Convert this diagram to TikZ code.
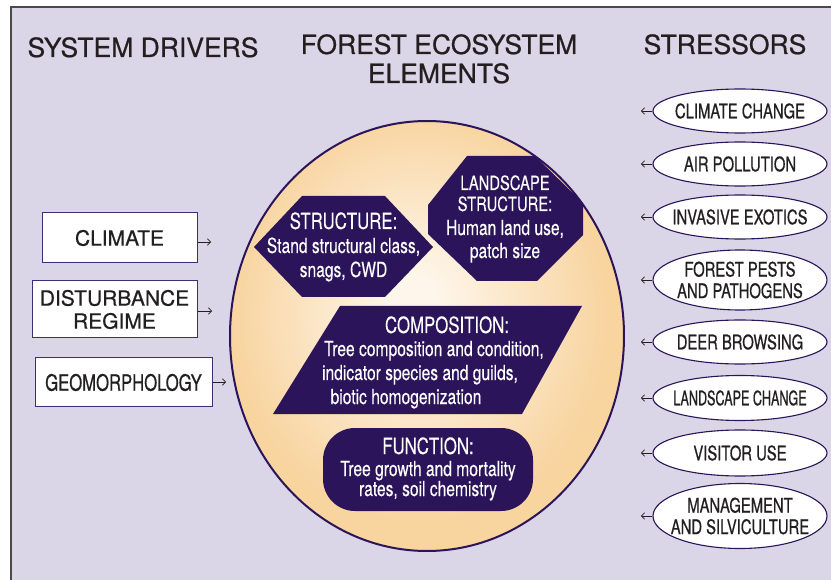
\documentclass[tikz,border=0pt]{standalone}
\usepackage{fontspec}
\setmainfont{TeX Gyre Heros}
\newfontfamily\hfont[FakeBold=0.6]{TeX Gyre Heros}
\newfontfamily\cond[FakeStretch=0.75,FakeBold=0.2]{TeX Gyre Heros}
\newfontfamily\condb[FakeStretch=0.74,FakeBold=0.6]{TeX Gyre Heros}
\newfontfamily\xcondb[FakeStretch=0.63,FakeBold=0.6]{TeX Gyre Heros}
\usetikzlibrary{shapes.geometric,arrows.meta}
\definecolor{bg}{HTML}{DAD6E8}
\definecolor{dp}{HTML}{2B1459}
\definecolor{boxc}{HTML}{3D2E75}
\definecolor{ink}{HTML}{231F20}
\definecolor{peach}{HTML}{F8D49F}
\definecolor{cream}{HTML}{FEF6EA}
\definecolor{framec}{HTML}{4A4A4A}
\pgfdeclareradialshading{eggshade}{\pgfpoint{-1.8bp}{4.2bp}}{color(0bp)=(cream); color(3bp)=(cream); color(24bp)=(peach); color(50bp)=(peach)}
\tikzset{
  hdr/.style={font=\hfont\fontsize{26.5}{29}\selectfont, text=ink, anchor=base, inner sep=0},
  drvbox/.style={draw=boxc, line width=1pt, fill=white, inner sep=0, align=center, text=ink, font=\hfont\fontsize{21}{23}\selectfont},
  stressell/.style={ellipse, draw=dp, line width=1.1pt, fill=white, minimum width=174, inner sep=0},
  sttxt/.style={font=\condb\fontsize{20}{21.5}\selectfont, text=ink, align=center, inner sep=0},
  wtitle/.style={font=\cond\fontsize{22.4}{24}\selectfont, text=white, anchor=base, inner sep=0},
  wtitles/.style={font=\cond\fontsize{19.7}{21}\selectfont, text=white, anchor=base, inner sep=0},
  wbody/.style={font=\cond\fontsize{20.8}{22}\selectfont, text=white, anchor=base, inner sep=0},
  arr/.style={draw=ink, line width=0.75pt, -{Straight Barb[length=3pt,width=6.5pt]}},
}
\begin{document}
\begin{tikzpicture}[x=1pt,y=-1pt]
\useasboundingbox (0,0) rectangle (831,580);
% frame
\fill[bg] (11,7) rectangle (850,600);
\draw[framec, line width=1.3pt] (850,7) -- (11,7) -- (11,600);
% headers
\node[hdr] (h1) at (143,57) {SYSTEM DRIVERS};
\node[hdr] (h2) at (439,54) {FOREST ECOSYSTEM};
\node[hdr] (h3) at (439,83) {ELEMENTS};
\node[hdr] (h4) at (725,54) {STRESSORS};
% central ellipse
\shade[shading=eggshade] (427,336) ellipse [x radius=197, y radius=215];
\draw[dp, line width=2pt] (427,336) ellipse [x radius=197, y radius=215];
% STRUCTURE hexagon
\fill[dp] (302,196) -- (385,196) -- (433,247) -- (385,297) -- (302,297) -- (254,247) -- cycle;
\node[wtitle] (st1) at (343.5,229) {STRUCTURE:};
\node[wbody] (st2) at (343.5,253) {Stand structural class,};
\node[wbody] (st3) at (343.5,277) {snags, CWD};
% LANDSCAPE STRUCTURE octagon
\fill[dp] (467,156) -- (535,156) -- (583,203) -- (583,235) -- (537,281) -- (477,281) -- (428,234) -- (428,205) -- cycle;
\node[wtitles] (ls1) at (505,190) {LANDSCAPE};
\node[wtitles] (ls2) at (505,211) {STRUCTURE:};
\node[wbody] (ls3) at (505,235) {Human land use,};
\node[wbody] (ls4) at (505,258) {patch size};
% COMPOSITION parallelogram
\fill[dp] (340,306) -- (582,306) -- (522,414) -- (273,414) -- cycle;
\node[wtitle] (co1) at (447,333) {COMPOSITION:};
\node[wbody] (co2) at (434,356) {Tree composition and condition,};
\node[wbody] (co3) at (420,380) {indicator species and guilds,};
\node[wbody] (co4) at (406,404) {biotic homogenization};
% FUNCTION rounded box
\fill[dp, rounded corners=32pt] (323,428) rectangle (533,511);
\node[wtitle] (fu1) at (428,454) {FUNCTION:};
\node[wbody] (fu2) at (428,476) {Tree growth and mortality};
\node[wbody] (fu3) at (428,496) {rates, soil chemistry};
% system drivers
\node[drvbox, minimum width=155, minimum height=50] (clim) at (119.5,238) {CLIMATE};
\node[drvbox, minimum width=165, minimum height=57] (dist) at (114.5,309.5) {DISTURBANCE\\REGIME};
\node[drvbox, minimum width=177, minimum height=49, font=\condb\fontsize{22.5}{24}\selectfont] (geo) at (123.5,382.5) {GEOMORPHOLOGY};
\coordinate (climt) at (211,242);
\coordinate (distt) at (212,311);
\coordinate (geot) at (226,382);
\draw[arr] (clim.east |- climt) -- (climt);
\draw[arr] (dist.east |- distt) -- (distt);
\draw[arr] (geo.east |- geot) -- (geot);
% stressors
\node[stressell, minimum height=44] (s1) at (740,111) {};
\node[sttxt] (t1) at (s1) {CLIMATE CHANGE};
\node[stressell, minimum height=44] (s2) at (740,164) {};
\node[sttxt] (t2) at (s2) {AIR POLLUTION};
\node[stressell, minimum height=44] (s3) at (740,217) {};
\node[sttxt] (t3) at (s3) {INVASIVE EXOTICS};
\node[stressell, minimum height=60] (s4) at (740,280) {};
\node[sttxt] (t4) at (s4) {FOREST PESTS\\AND PATHOGENS};
\node[stressell, minimum height=44] (s5) at (740,342) {};
\node[sttxt] (t5) at (s5) {DEER BROWSING};
\node[stressell, minimum height=45] (s6) at (740,398) {};
\node[sttxt, font=\xcondb\fontsize{20}{21.5}\selectfont] (t6) at (s6) {LANDSCAPE CHANGE};
\node[stressell, minimum height=46] (s7) at (740,453) {};
\node[sttxt] (t7) at (s7) {VISITOR USE};
\node[stressell, minimum height=65] (s8) at (740,516) {};
\node[sttxt] (t8) at (s8) {MANAGEMENT\\AND SILVICULTURE};
\foreach \i/\yy in {1/111,2/164,3/217,4/280,5/342,6/398,7/453,8/516}{
  \coordinate (a\i) at (641,\yy);
  \draw[arr] (s\i.west) -- (a\i);
}
\end{tikzpicture}
\end{document}
